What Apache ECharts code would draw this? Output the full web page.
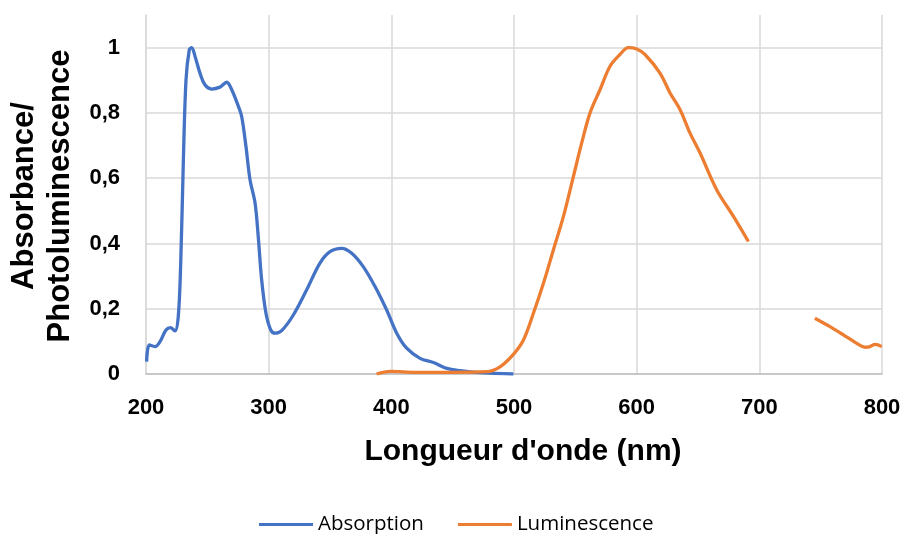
<!DOCTYPE html>
<html>
<head>
<meta charset="utf-8">
<script src="https://cdn.jsdelivr.net/npm/echarts@6/dist/echarts.min.js"></script>
<style>html,body{margin:0;padding:0;background:#fff}#c{width:904px;height:534px}</style>
</head>
<body>
<div id="c"></div>
<script>
// Data (wavelength in nm, normalized intensity)
const absWavelength = [200.5,202.7,207.3,211.4,216.3,220,223.6,226.3,228.3,230.4,232.6,235.3,237.2,240,244,248,253.5,260.3,265.8,269.9,275.3,278,281.5,284.8,288.9,291.5,294.3,297.8,301.7,305.2,310.6,320,331,341.8,350,359.5,367.7,377.1,386.7,396.2,404.4,412.5,423.4,434.3,445.2,456,472.3,499.5];
const absValues = [0.038,0.089,0.084,0.099,0.135,0.142,0.132,0.176,0.34,0.646,0.90,0.994,1.0,0.973,0.922,0.886,0.873,0.879,0.894,0.871,0.82,0.789,0.697,0.595,0.524,0.421,0.288,0.186,0.135,0.125,0.133,0.180,0.258,0.34,0.375,0.385,0.37,0.329,0.268,0.196,0.125,0.079,0.048,0.035,0.017,0.010,0.004,0.0];
const lumWavelength = [388,399,420,450,477.6,488.6,499.5,507.7,515.8,524,532.1,540.3,548.4,555.2,562,570.1,578.3,586.4,593.2,600,606.8,619,627.2,635.4,643.5,651.7,665.3,678.9,691.1,718,745.3,757.6,768.5,779.4,786.2,790.3,794.4,799.8];
const lumValues = [0,0.008,0.005,0.005,0.007,0.022,0.060,0.104,0.186,0.278,0.38,0.483,0.605,0.708,0.80,0.871,0.943,0.979,1.0,0.996,0.979,0.922,0.861,0.81,0.738,0.677,0.564,0.483,0.406,null,0.171,0.145,0.12,0.094,0.082,0.084,0.091,0.084];
const xTicks = [200,300,400,500,600,700,800];
const seriesNames = ['Absorption','Luminescence'];
const xTitle = "Longueur d'onde (nm)";
const yTitle = ['Absorbance/','Photoluminescence'];

const absData = absWavelength.map((x,i)=>[x,absValues[i]]);
const lumData = lumWavelength.map((x,i)=>[x,lumValues[i]]);

const chart = echarts.init(document.getElementById('c'), null, {renderer:'canvas'});
const gridColor = '#d9d9d9';
chart.setOption({
  animation:false,
  backgroundColor:'#fff',
  grid:{left:146,right:22,top:15,bottom:160,containLabel:false},
  xAxis:{
    type:'value',min:xTicks[0],max:xTicks[xTicks.length-1],interval:100,
    axisLine:{show:true,lineStyle:{color:'#bfbfbf',width:1.5}},
    axisTick:{show:false},
    splitLine:{show:true,lineStyle:{color:gridColor,width:1.5}},
    axisLabel:{margin:23,color:'#000',fontFamily:'Liberation Sans, Arial, sans-serif',fontWeight:'bold',fontSize:22}
  },
  yAxis:{
    type:'value',min:0,max:1.1,interval:0.2,
    axisLine:{show:true,lineStyle:{color:gridColor,width:1.5}},
    axisTick:{show:false},
    splitLine:{show:true,showMaxLine:false,lineStyle:{color:gridColor,width:1.5}},
    axisLabel:{margin:26,showMaxLabel:false,color:'#000',fontFamily:'Liberation Sans, Arial, sans-serif',fontWeight:'bold',fontSize:22,
      formatter:v=>String(Math.round(v*10)/10).replace('.',',')}
  },
  legend:{
    left:259,top:514,padding:0,itemWidth:54,itemHeight:3,itemGap:34,icon:'rect',
    textStyle:{fontFamily:'Open Sans, sans-serif',fontSize:20.5,color:'#000'},
    data:seriesNames
  },
  series:[
    {name:seriesNames[0],type:'line',data:absData,smooth:0.35,showSymbol:false,connectNulls:false,
     lineStyle:{color:'#4472c4',width:3.3},itemStyle:{color:'#4472c4'}},
    {name:seriesNames[1],type:'line',data:lumData,smooth:0.35,showSymbol:false,connectNulls:false,
     lineStyle:{color:'#ed7d31',width:3.3},itemStyle:{color:'#ed7d31'}}
  ],
  graphic:[
    {type:'text',x:523,y:452,style:{text:xTitle,fill:'#000',font:'bold 30px "Liberation Sans", Arial, sans-serif',textAlign:'center',textVerticalAlign:'middle'}},
    {type:'text',x:42,y:196,rotation:Math.PI/2,style:{text:yTitle.join('\n'),fill:'#000',font:'bold 31px "Liberation Sans", Arial, sans-serif',textAlign:'center',textVerticalAlign:'middle',lineHeight:36}}
  ]
});
</script>
</body>
</html>
